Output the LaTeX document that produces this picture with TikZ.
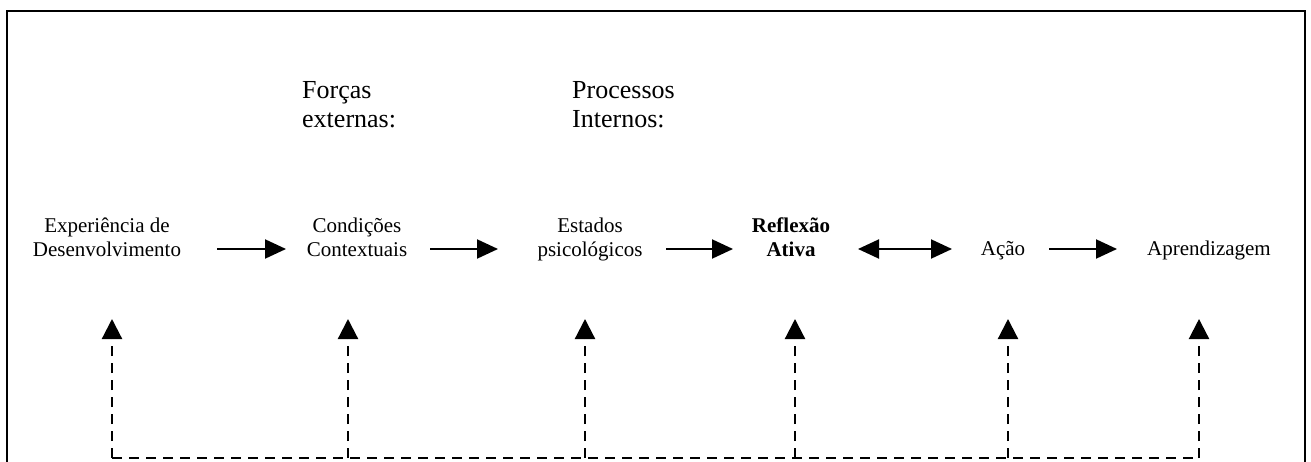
\documentclass[tikz,border=0pt]{standalone}
\usepackage{fontspec}
\setmainfont{Liberation Serif}
\usetikzlibrary{arrows.meta}
\begin{document}
\begin{tikzpicture}[x=1pt,y=-1pt,
  lbl/.style={inner sep=0pt,anchor=base,align=center,font=\fontsize{21}{24}\selectfont},
  toplbl/.style={inner sep=0pt,anchor=base west,align=left,font=\fontsize{26}{29.5}\selectfont},
  flow/.style={line width=2pt,-{Triangle[length=21pt,width=19pt]}},
  biflow/.style={line width=2pt,{Triangle[length=21pt,width=19pt]}-{Triangle[length=21pt,width=19pt]}},
  feed/.style={line width=2.2pt,dash pattern=on 10pt off 7pt},
  feedup/.style={feed,-{Triangle[length=20pt,width=20pt]}},
  frame/.style={line width=2pt}]
\useasboundingbox (0,0) rectangle (1311,462);
\fill[white] (0,0) rectangle (1311,462);
% frame
\coordinate (fbl) at (7,463);
\coordinate (ftl) at (7,11);
\coordinate (ftr) at (1305,11);
\coordinate (fbr) at (1305,463);
\draw[frame] (fbl) -- (ftl) -- (ftr) -- (fbr);
% top labels (base anchor = last line baseline)
\node[toplbl] (forcas) at (302,128) {Forças\\externas:};
\node[toplbl] (processos) at (572,128) {Processos\\Internos:};
% main row
\node[lbl] (exp) at (107,257) {Experiência de\\Desenvolvimento};
\node[lbl] (cond) at (357,257) {Condições\\Contextuais};
\node[lbl] (est) at (590,257) {Estados\\psicológicos};
\node[lbl,font=\fontsize{21}{24}\selectfont\bfseries] (refl) at (791,257) {Reflexão\\Ativa};
\node[lbl] (acao) at (1003,256) {Ação};
\node[lbl] (apr) at (1209,256) {Aprendizagem};
% horizontal arrow ends
\coordinate (h1s) at (217,249); \coordinate (h1e) at (286,249);
\coordinate (h2s) at (430,249); \coordinate (h2e) at (498,249);
\coordinate (h3s) at (666,249); \coordinate (h3e) at (733,249);
\coordinate (h4s) at (858,249); \coordinate (h4e) at (952,249);
\coordinate (h5s) at (1049,249); \coordinate (h5e) at (1117,249);
\draw[flow] (h1s) -- (h1e);
\draw[flow] (h2s) -- (h2e);
\draw[flow] (h3s) -- (h3e);
\draw[biflow] (h4s) -- (h4e);
\draw[flow] (h5s) -- (h5e);
% feedback
\foreach \i/\x in {1/112,2/348,3/585,4/795,5/1008,6/1199}{
  \coordinate (b\i) at (\x,458);
  \coordinate (t\i) at (\x,319);
}
\draw[feed] (b1) -- (b6);
\foreach \i in {1,...,6}{
  \draw[feedup] (b\i) -- (t\i);
}
\end{tikzpicture}
\end{document}
